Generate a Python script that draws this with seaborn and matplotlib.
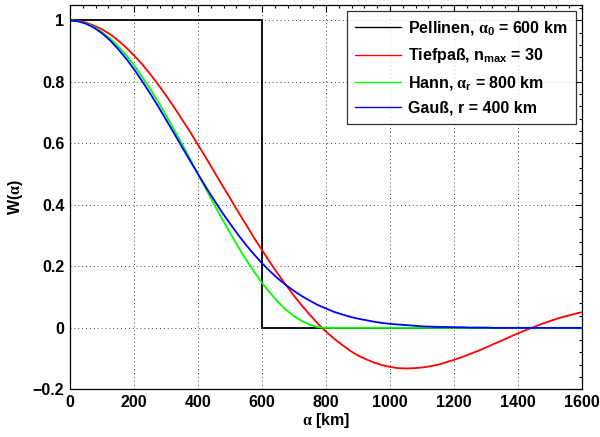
import pandas as pd
import matplotlib
matplotlib.use("Agg")
import matplotlib.pyplot as plt
from matplotlib.ticker import MultipleLocator
import seaborn as sns

# spherical distance alpha [km], every 25 km
alpha = list(range(0, 1625, 25))

# Pellinen (box) with alpha_0 = 600 km
pellinen_alpha = [0, 600, 600, 1600]
pellinen_w = [1, 1, 0, 0]

# Tiefpass n_max = 30
tiefpass_w = [1.000, 0.998, 0.993, 0.983, 0.971, 0.955, 0.935, 0.912, 0.886, 0.858,
              0.826, 0.792, 0.756, 0.718, 0.678, 0.638, 0.595, 0.553, 0.509, 0.465,
              0.422, 0.378, 0.336, 0.293, 0.253, 0.213, 0.175, 0.139, 0.104, 0.072,
              0.042, 0.013, -0.012, -0.035, -0.055, -0.074, -0.090, -0.102, -0.113,
              -0.121, -0.127, -0.131, -0.132, -0.131, -0.129, -0.125, -0.120, -0.112,
              -0.104, -0.095, -0.085, -0.075, -0.064, -0.052, -0.041, -0.029, -0.018,
              -0.007, 0.003, 0.013, 0.022, 0.031, 0.038, 0.045, 0.051]

# Hann, alpha_r = 800 km
hann_w = [1.000, 0.998, 0.990, 0.979, 0.962, 0.941, 0.916, 0.887, 0.854, 0.817,
          0.778, 0.736, 0.691, 0.645, 0.598, 0.549, 0.500, 0.451, 0.402, 0.355,
          0.309, 0.264, 0.222, 0.183, 0.146, 0.114, 0.084, 0.059, 0.038, 0.022,
          0.010, 0.002, 0.0] + [0.0] * 32

# Gauss, r = 400 km
gauss_w = [1.000, 0.997, 0.989, 0.976, 0.958, 0.935, 0.907, 0.876, 0.841, 0.803,
           0.763, 0.721, 0.677, 0.633, 0.588, 0.544, 0.500, 0.457, 0.416, 0.376,
           0.339, 0.303, 0.270, 0.239, 0.210, 0.184, 0.160, 0.139, 0.120, 0.103,
           0.088, 0.074, 0.063, 0.052, 0.044, 0.036, 0.030, 0.025, 0.020, 0.016,
           0.013, 0.011, 0.009, 0.007, 0.005, 0.004, 0.003, 0.003, 0.002, 0.002,
           0.001, 0.001, 0.001] + [0.0] * 12

names = [r"Pellinen, $\alpha_{\mathrm{0}}$ = 600 km",
         r"Tiefpaß, $\mathrm{n}_{\mathrm{max}}$ = 30",
         r"Hann, $\alpha_{\mathrm{r}}$ = 800 km",
         r"Gauß, r = 400 km"]
colors = ["#000000", "#ff0000", "#00ff00", "#0000ff"]

frames = [pd.DataFrame({"alpha": pellinen_alpha, "W": pellinen_w, "filter": names[0]})]
for name, w in zip(names[1:], [tiefpass_w, hann_w, gauss_w]):
    frames.append(pd.DataFrame({"alpha": alpha, "W": w, "filter": name}))
df = pd.concat(frames, ignore_index=True)

sns.set_theme(style="white")
plt.rcParams["font.family"] = ["Liberation Sans", "DejaVu Sans"]
plt.rcParams["font.weight"] = "bold"
plt.rcParams["text.color"] = "black"
plt.rcParams["axes.labelcolor"] = "black"
plt.rcParams["mathtext.fontset"] = "custom"
plt.rcParams["mathtext.rm"] = "Liberation Sans:bold"
plt.rcParams["mathtext.it"] = "Liberation Serif"
plt.rcParams["mathtext.bf"] = "Liberation Sans:bold"

fs = 11.5
fig, ax = plt.subplots(figsize=(6, 4.37), dpi=100)
fig.subplots_adjust(left=0.1167, right=0.97, bottom=0.109, top=0.9886)

sns.lineplot(data=df, x="alpha", y="W", hue="filter", hue_order=names,
             palette=colors, estimator=None, sort=False, linewidth=1.3, ax=ax)

ax.set_xlim(0, 1600)
ax.set_ylim(-0.2, 1.05)
ax.xaxis.set_major_locator(MultipleLocator(200))
ax.xaxis.set_minor_locator(MultipleLocator(40))
ax.yaxis.set_minor_locator(MultipleLocator(0.04))
ax.set_yticks([-0.2, 0, 0.2, 0.4, 0.6, 0.8, 1])
ax.set_yticklabels(["\u22120.2", "0", "0.2", "0.4", "0.6", "0.8", "1"])
ax.tick_params(which="both", direction="in", top=True, right=True, colors="black",
               labelsize=fs, width=0.8)
ax.tick_params(which="major", length=5, pad=4)
ax.tick_params(which="minor", length=2.5)
for lab in ax.get_xticklabels() + ax.get_yticklabels():
    lab.set_fontweight("bold")
ax.grid(True, which="major", linestyle=(0, (1, 3)), color="0.25", linewidth=0.7)
for s in ax.spines.values():
    s.set_color("black")
    s.set_linewidth(0.9)

ax.set_xlabel(r"$\alpha$ [km]", fontsize=fs, fontweight="bold", labelpad=1)
ax.set_ylabel(r"W($\alpha$)", fontsize=fs, fontweight="bold", labelpad=6)

leg = ax.legend(loc="upper right", fontsize=fs, frameon=True, fancybox=False,
                edgecolor="black", handlelength=2.9, labelspacing=0.55,
                borderpad=0.5, borderaxespad=0.4, handletextpad=0.45)
leg.get_frame().set_linewidth(0.9)
for t in leg.get_texts():
    t.set_fontweight("bold")
for l in leg.get_lines():
    l.set_linewidth(1.0)

fig.savefig("out.png", dpi=100)
